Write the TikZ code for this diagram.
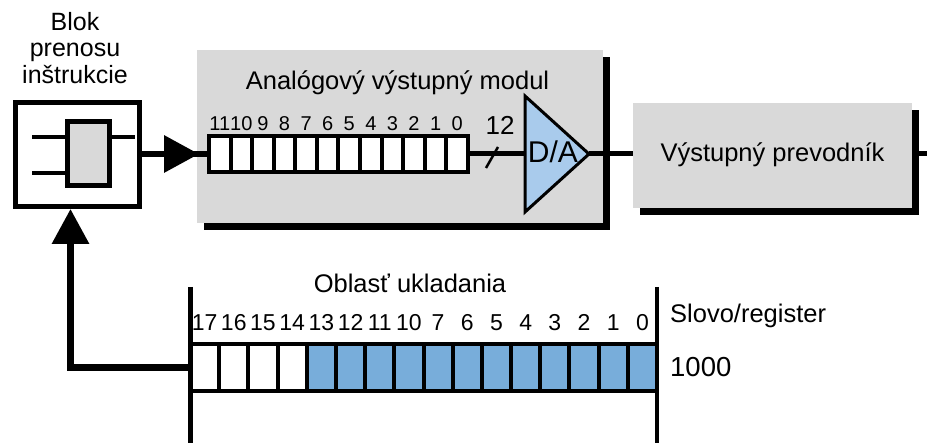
\documentclass[tikz,border=0pt]{standalone}
\usepackage{fontspec}
\setmainfont{Liberation Sans}
\usetikzlibrary{arrows.meta,shadows}
\definecolor{boxgray}{HTML}{D9D9D9}
\definecolor{cellblue}{HTML}{78ADDA}
\definecolor{dablue}{HTML}{A9CBEC}
\begin{document}
\begin{tikzpicture}[x=1pt,y=-1pt,
  wire/.style={line width=6.5pt},
  thinwire/.style={line width=5pt},
  bigtip/.style={-{Triangle[length=35pt,width=36pt]}},
  lbl/.style={inner sep=0pt, anchor=base, font=\fontsize{25.5}{28}\selectfont},
  mbit/.style={inner sep=0pt, anchor=base, font=\fontsize{20}{22}\selectfont},
  sbit/.style={inner sep=0pt, anchor=base, font=\fontsize{23}{26}\selectfont},
  mcell/.style={draw, fill=white, line width=4pt, minimum width=21.58pt, minimum height=36pt, inner sep=0pt},
  scell/.style={draw, line width=4pt, minimum width=29.19pt, minimum height=47pt, inner sep=0pt},
  graybox/.style={fill=boxgray, inner sep=0pt, drop shadow={shadow xshift=6.5pt, shadow yshift=-7pt, fill=black, opacity=1}},
]
\useasboundingbox (0,0) rectangle (927,443);

% instruction block
\node[align=center, font=\fontsize{25}{26.5}\selectfont, anchor=north, inner sep=0pt] (bloktxt) at (75,12) {Blok\\prenosu\\inštrukcie};
\node[draw, line width=5pt, fill=white, minimum width=124pt, minimum height=104pt, inner sep=0pt] (blok) at (77.5,154.5) {};
\node[draw, line width=5pt, fill=boxgray, minimum width=42pt, minimum height=64pt, inner sep=0pt] (relay) at (88.5,153.5) {};
\coordinate (l1) at (32,137);
\coordinate (l2) at (32,173);
\coordinate (r1) at (135,137);
\draw[line width=4.5pt] (relay.west |- l1) -- (l1);
\draw[line width=4.5pt] (relay.west |- l2) -- (l2);
\draw[line width=4.5pt] (relay.east |- r1) -- (r1);

% analog output module
\node[graybox, minimum width=406pt, minimum height=173pt] (mod) at (400,136.5) {};
\node[lbl] (modtitle) at (397.5,90) {Analógový výstupný modul};
\foreach \i in {0,...,11}{
  \pgfmathtruncatemacro\b{11-\i}
  \node[mcell] (m\i) at ({209+21.58*(\i+0.5)},154) {};
  \node[mbit] (mb\i) at ({209+21.58*(\i+0.5)},130.7) {\b};
}
\draw[wire] (blok.east |- m0.west) -- (m0.west);
\draw[wire, bigtip, shorten >=8pt] (blok.east |- m0.west) -- (m0.west);

\coordinate (dain) at (525,154);
\coordinate (datip) at (589,154);
\draw[thinwire] (m11.east) -- (dain);
\draw[line width=2.5pt] (486,168) -- (498,147);
\node[inner sep=0pt, anchor=base, font=\fontsize{26}{28}\selectfont] (w12) at (500,135) {12};
\draw[fill=dablue, line width=3pt, line join=miter] (525,96) -- (525,212) -- (datip) -- cycle;
\node[inner sep=0pt, anchor=base, font=\fontsize{30}{32}\selectfont] (da) at (553,163) {D/A};

% output converter
\node[graybox, minimum width=279pt, minimum height=105pt, font=\fontsize{25.5}{28}\selectfont, text height=18pt, text depth=5pt] (conv) at (772.5,155.5) {Výstupný prevodník};
\draw[thinwire] (datip) -- (datip -| conv.west);
\coordinate (edge) at (927,154);
\draw[thinwire] (conv.east |- edge) -- (edge);

% storage area
\node[lbl] (oblast) at (410,293) {Oblasť ukladania};
\foreach \l [count=\i from 0] in {17,16,15,14,13,12,11,10,7,6,5,4,3,2,1,0}{
  \ifnum\i<4 \def\cc{white}\else\def\cc{cellblue}\fi
  \node[scell, fill=\cc] (s\i) at ({190+29.19*(\i+0.5)},367.5) {};
  \node[sbit] (sb\i) at ({190+29.19*(\i+0.5)},331) {\l};
}
\coordinate (stl) at (190,287);
\coordinate (stlb) at (190,443);
\coordinate (str) at (657,287);
\coordinate (strb) at (657,443);
\draw[line width=5pt] (stl) -- (stlb);
\draw[line width=4.5pt] (str) -- (strb);
\node[lbl, anchor=base west] (slovo) at (670,323) {Slovo/register};
\node[lbl, anchor=base west, font=\fontsize{27.5}{30}\selectfont] (addr) at (670,377) {1000};

\draw[wire, bigtip] (stl |- s0.west) -| ([xshift=-7pt]blok.south);
\end{tikzpicture}
\end{document}
